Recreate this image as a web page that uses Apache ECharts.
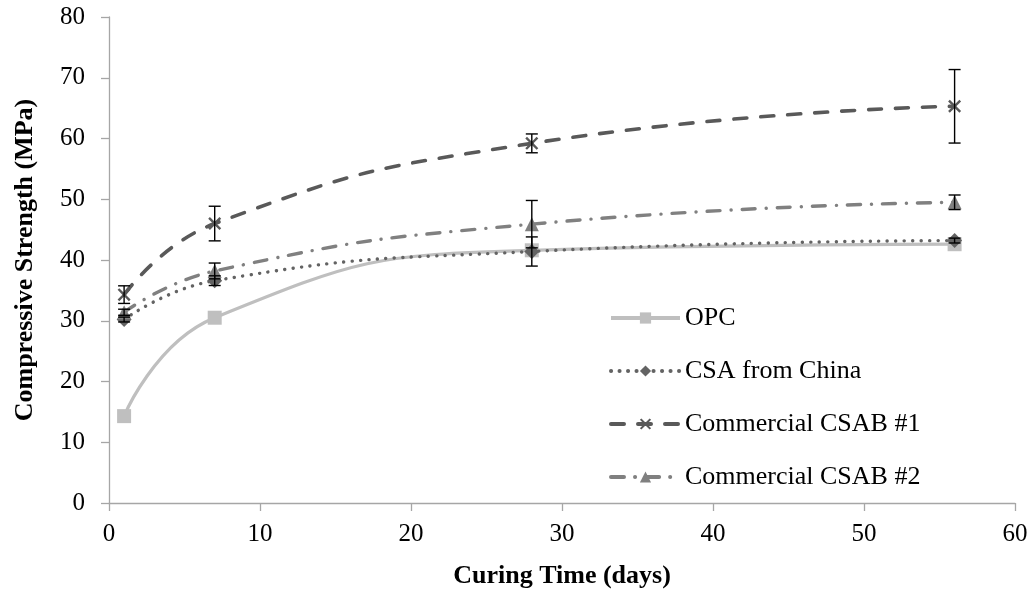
<!DOCTYPE html>
<html>
<head>
<meta charset="utf-8">
<script src="https://cdn.jsdelivr.net/npm/echarts@6/dist/echarts.min.js"></script>
<style>
  html, body { margin: 0; padding: 0; background: #fff; }
  #chart { width: 1034px; height: 594px; }
</style>
</head>
<body>
<div id="chart"></div>
<script>
// Curing ages (days)
const days = [1, 7, 28, 56];

// Mean compressive strength (MPa)
const opc   = [14.3, 30.5, 41.6, 42.6];
const csa   = [30.2, 36.6, 41.4, 43.2];
const csab1 = [34.3, 46.0, 59.2, 65.3];
const csab2 = [31.4, 38.2, 45.9, 49.5];

// Standard deviations (MPa)
const csaErr   = [0.4, 0.8, 2.4, 0.4];
const csab1Err = [1.45, 2.85, 1.55, 6.05];
const csab2Err = [0.5, 1.3, 3.9, 1.2];

const seriesNames = ['OPC', 'CSA from China', 'Commercial CSAB #1', 'Commercial CSAB #2'];

const xTicks = [0, 10, 20, 30, 40, 50, 60];
const yTicks = [0, 10, 20, 30, 40, 50, 60, 70, 80];

const serif = '"Liberation Serif", "Times New Roman", serif';

const pairs = (vals) => days.map((d, i) => [d, vals[i]]);
const errRows = (vals, errs) => days.map((d, i) => [d, vals[i], vals[i] - errs[i], vals[i] + errs[i]]);

// Thin filled "X" shape used as a cross marker
const crossPath = 'path://M0,1.3L1.3,0L5,3.7L8.7,0L10,1.3L6.3,5L10,8.7L8.7,10L5,6.3L1.3,10L0,8.7L3.7,5Z';

function errorBar(params, api) {
  const x = api.value(0);
  const lo = api.coord([x, api.value(2)]);
  const hi = api.coord([x, api.value(3)]);
  const half = 6;
  const style = { stroke: '#000', lineWidth: 1.4 };
  return {
    type: 'group',
    children: [
      { type: 'line', shape: { x1: lo[0], y1: lo[1], x2: hi[0], y2: hi[1] }, style },
      { type: 'line', shape: { x1: lo[0] - half, y1: lo[1], x2: lo[0] + half, y2: lo[1] }, style },
      { type: 'line', shape: { x1: hi[0] - half, y1: hi[1], x2: hi[0] + half, y2: hi[1] }, style }
    ]
  };
}

const axisGray = '#A6A6A6';

const chart = echarts.init(document.getElementById('chart'), null, { renderer: 'canvas' });

chart.setOption({
  animation: false,
  backgroundColor: '#fff',
  grid: { left: 109, right: 19, top: 17, bottom: 89, containLabel: false },
  xAxis: {
    type: 'value',
    min: xTicks[0], max: xTicks[xTicks.length - 1], interval: 10,
    name: 'Curing Time (days)',
    nameLocation: 'middle',
    nameGap: 60,
    nameTextStyle: { fontFamily: serif, fontSize: 26, fontWeight: 'bold', color: '#000' },
    axisLine: { lineStyle: { color: axisGray, width: 1.3 } },
    axisTick: { show: true, length: 8, inside: false, lineStyle: { color: axisGray, width: 1.3 } },
    axisLabel: { fontFamily: serif, fontSize: 25, color: '#000', margin: 19 },
    splitLine: { show: false }
  },
  yAxis: {
    type: 'value',
    min: yTicks[0], max: yTicks[yTicks.length - 1], interval: 10,
    name: 'Compressive Strength (MPa)',
    nameLocation: 'middle',
    nameGap: 71,
    nameRotate: 90,
    nameTextStyle: { fontFamily: serif, fontSize: 26, fontWeight: 'bold', color: '#000' },
    axisLine: { show: true, lineStyle: { color: axisGray, width: 1.3 } },
    axisTick: { show: true, length: 8, inside: false, lineStyle: { color: axisGray, width: 1.3 } },
    axisLabel: { fontFamily: serif, fontSize: 25, color: '#000', margin: 24 },
    splitLine: { show: false }
  },
  legend: {
    data: seriesNames,
    orient: 'vertical',
    left: 604,
    top: 300,
    itemWidth: 69,
    itemHeight: 14,
    itemGap: 27,
    lineStyle: { width: 4 },
    textStyle: { fontFamily: serif, fontSize: 26, color: '#000' }
  },
  series: [
    {
      name: seriesNames[0],
      type: 'line',
      data: pairs(opc),
      smooth: 0.5,
      symbol: 'rect',
      symbolSize: 14,
      itemStyle: { color: '#BFBFBF' },
      lineStyle: { color: '#BFBFBF', width: 3.2 },
      z: 2
    },
    {
      name: seriesNames[1],
      type: 'line',
      data: pairs(csa),
      smooth: 0.5,
      symbol: 'diamond',
      symbolSize: 15,
      itemStyle: { color: '#636363' },
      lineStyle: { color: '#636363', width: 3.4, type: [0.1, 8.4], cap: 'round' },
      z: 3
    },
    {
      name: seriesNames[2],
      type: 'line',
      data: pairs(csab1),
      smooth: 0.5,
      symbol: crossPath,
      symbolSize: 13,
      itemStyle: { color: '#595959' },
      lineStyle: { color: '#595959', width: 3.6, type: [13, 14], cap: 'round' },
      z: 4
    },
    {
      name: seriesNames[3],
      type: 'line',
      data: pairs(csab2),
      smooth: 0.5,
      symbol: 'triangle',
      symbolSize: 14,
      itemStyle: { color: '#808080' },
      lineStyle: { color: '#808080', width: 3.4, type: [13, 11, 0.1, 11], cap: 'round' },
      z: 3
    },
    {
      type: 'custom', name: 'err-csa', renderItem: errorBar,
      data: errRows(csa, csaErr), encode: { x: 0, y: [1, 2, 3] }, z: 10, silent: true
    },
    {
      type: 'custom', name: 'err-csab1', renderItem: errorBar,
      data: errRows(csab1, csab1Err), encode: { x: 0, y: [1, 2, 3] }, z: 10, silent: true
    },
    {
      type: 'custom', name: 'err-csab2', renderItem: errorBar,
      data: errRows(csab2, csab2Err), encode: { x: 0, y: [1, 2, 3] }, z: 10, silent: true
    }
  ]
});
</script>
</body>
</html>
